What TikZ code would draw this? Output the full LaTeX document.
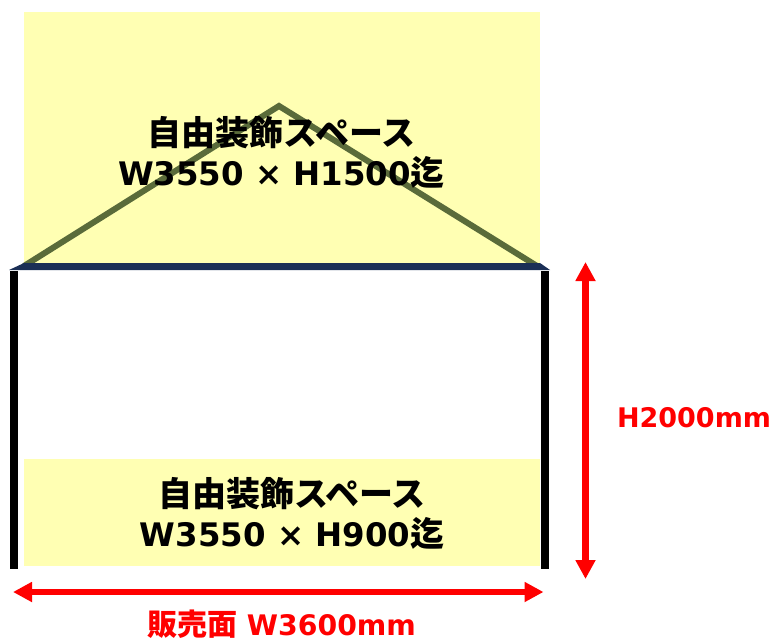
\documentclass[tikz,border=0pt]{standalone}
\usepackage{fontspec}
\setmainfont{DejaVu Sans}
\newfontfamily\cjk{Noto Sans CJK JP}
\usetikzlibrary{arrows.meta}
\definecolor{PaleYellow}{RGB}{255,255,179}
\definecolor{RoofGreen}{RGB}{90,107,58}
\definecolor{BeamNavy}{RGB}{27,47,86}
\newcommand{\bigcjk}[1]{{\cjk\fontsize{34}{40}\selectfont #1}}
\tikzset{
  freetext/.style={inner sep=0mm,align=center,font=\bfseries\fontsize{32.4}{40}\selectfont},
  sizetext/.style={inner sep=0mm,text=red,font=\bfseries\fontsize{27}{32}\selectfont},
  sizearrow/.style={line width=6.5pt,red,{Triangle[length=19pt,width=19pt]}-{Triangle[length=19pt,width=19pt]}},
}
\begin{document}
\begin{tikzpicture}[x=1pt,y=-1pt]
          \useasboundingbox (0,0) rectangle (771,639);
          \fill[PaleYellow] (24,12) rectangle (540,265);
          \fill[PaleYellow] (24,459) rectangle (540,566);
          \draw[line width=6pt,RoofGreen,line join=miter] (24,266) -- (279,106) -- (537,266);
          \fill[BeamNavy] (9,270) -- (24,263) -- (540,263) -- (550,270) -- cycle;
          \fill[black] (9.5,271) rectangle (18,569);
          \fill[black] (540.5,271) rectangle (549,569);
          \node[freetext] (upper) at (281.5,152) {\bigcjk{自由装飾スペース}\\W3550 × H1500\bigcjk{迄}};
          \node[freetext] (lower) at (292,513.5) {\bigcjk{自由装飾スペース}\\W3550 × H900\bigcjk{迄}};
          \coordinate (top) at (585.5,262);
          \coordinate (bottom) at (585.5,579);
          \coordinate (left) at (13,592);
          \coordinate (right) at (543.5,592);
          \draw[sizearrow] (top) -- (bottom);
          \draw[sizearrow] (left) -- (right);
          \node[sizetext] (height) at (694,418) {H2000mm};
          \node[sizetext,anchor=base,font=\bfseries\fontsize{28.3}{32}\selectfont] (width) at (281.5,635) {{\cjk\fontsize{30}{32}\selectfont 販売面} W3600mm};
        \end{tikzpicture}
\end{document}
